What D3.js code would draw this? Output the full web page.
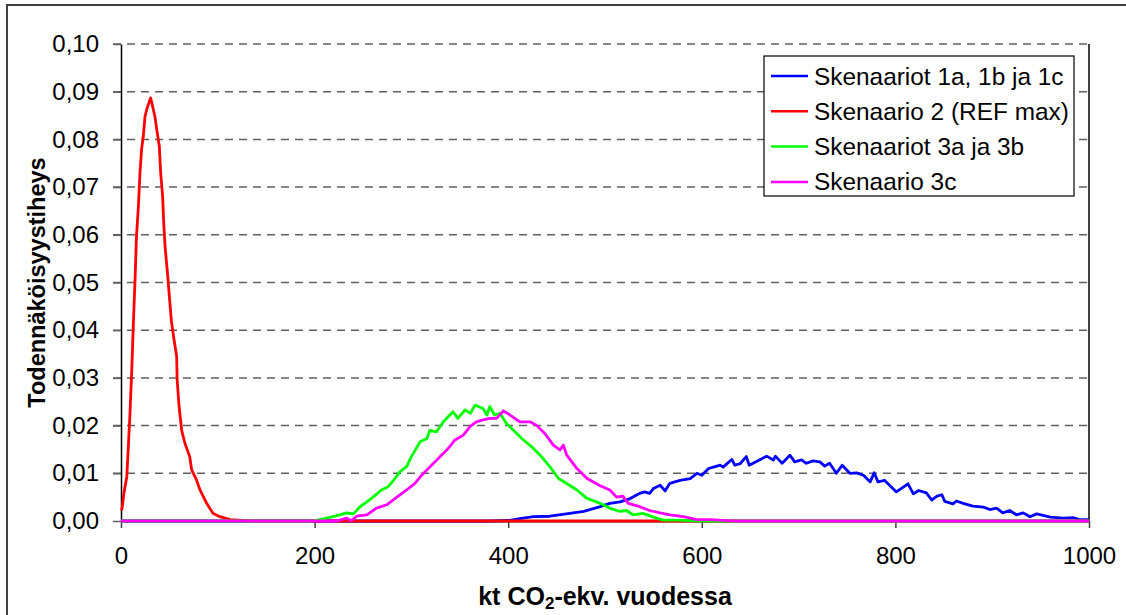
<!DOCTYPE html>
<html lang="fi">
<head>
  <meta charset="UTF-8">
  <title>Todennäköisyystiheys</title>
  <script src='https://d3js.org/d3.v7.min.js'></script>
  <style>
    body { margin: 0; background: #fff; }
    text { font-family: "Liberation Sans", Arial, sans-serif; fill: #000; }
  </style>
</head>
<body>
</body>
<script>
  // Series: [kt CO2-ekv., density]
  const series1 = [[0,0],[380,0],[400,0.0001],[412,0.0005],[426,0.0009],[443,0.001],[460,0.0015],[478,0.002],[495,0.003],[505,0.0037],[515.5,0.004],[526,0.0047],[536,0.0058],[541,0.0061],[546,0.0058],[550,0.0068],[557,0.0075],[562,0.0063],[567,0.0079],[577.5,0.0085],[588,0.0089],[595,0.01],[600,0.0096],[607,0.011],[612,0.0113],[619,0.0117],[622,0.0113],[631,0.0129],[634,0.0117],[639.5,0.012],[646,0.0135],[649,0.0117],[656,0.0124],[667,0.0136],[674,0.0128],[676,0.0136],[683,0.0121],[691,0.0138],[696,0.0124],[703,0.0128],[708,0.0121],[715,0.0126],[722,0.0124],[727,0.0115],[732,0.0121],[739,0.01],[745,0.0117],[753,0.01],[760,0.0101],[767,0.0096],[774,0.0082],[778,0.0101],[782,0.0082],[789,0.0085],[801,0.0061],[813,0.0078],[818.6,0.0057],[824,0.0064],[832,0.0059],[837.5,0.0044],[843,0.0052],[848,0.0055],[851,0.0041],[859.5,0.0036],[863,0.0042],[870,0.0037],[880,0.0031],[891,0.0029],[897.6,0.0024],[904.5,0.0027],[911,0.0017],[918,0.0022],[925,0.0013],[932,0.0017],[939,0.0009],[946,0.0015],[960,0.0008],[973.5,0.0006],[983.5,0.0007],[990,0.0003],[1000,0.0003]];
  const series2 = [[0,0.0022],[1,0.0025],[3,0.0058],[6,0.0093],[7.6,0.0156],[9.3,0.0226],[11,0.031],[12.7,0.041],[14.5,0.0506],[16,0.0597],[18,0.066],[19.6,0.073],[21.3,0.078],[23,0.0806],[24.8,0.0848],[27,0.0866],[30.6,0.0887],[32.7,0.0869],[35,0.0848],[37,0.082],[39.6,0.0785],[41,0.073],[43,0.068],[44,0.063],[45.5,0.0576],[48,0.052],[50,0.047],[52,0.042],[54.8,0.038],[57.5,0.0345],[58,0.0296],[60,0.024],[62.7,0.019],[66,0.0163],[71,0.0135],[73,0.0107],[78,0.0086],[81.6,0.0065],[88.5,0.0037],[95,0.0016],[102,0.0009],[113,0.0003],[130,0.0001],[140,0],[1000,0]];
  const series3 = [[0,0],[198,0],[212.5,0.0006],[226,0.0013],[233,0.0017],[240,0.0015],[247,0.003],[254,0.004],[261,0.0051],[269,0.0065],[276,0.0072],[283,0.0089],[288,0.0103],[295,0.0114],[300,0.0135],[309,0.0166],[316,0.0173],[319,0.019],[326,0.0187],[333,0.0208],[343,0.0229],[348,0.0215],[355.4,0.0233],[361,0.0226],[365.7,0.0243],[374,0.0236],[378,0.0222],[381,0.024],[386,0.0222],[391.5,0.0226],[398,0.0205],[407,0.0187],[414,0.0173],[424,0.0156],[433,0.0138],[443,0.0114],[452,0.0089],[460,0.0079],[471,0.0065],[481,0.0048],[495,0.0037],[505,0.0027],[515.5,0.002],[522,0.0022],[529,0.0013],[539,0.0016],[550,0.0008],[560,0.0002],[574,0.0002],[588,0.0001],[600,0],[1000,0]];
  const series4 = [[0,0],[223,0],[233,0.0006],[238,0.0001],[243.5,0.001],[254,0.0013],[264,0.0027],[274.5,0.0034],[285,0.005],[295,0.0065],[303.7,0.0079],[310.6,0.0096],[317.5,0.011],[324.4,0.0124],[331,0.0138],[338,0.0152],[345,0.017],[353.7,0.018],[360.5,0.0198],[367,0.0208],[374,0.0212],[381,0.0215],[388,0.0215],[395,0.0231],[402,0.0222],[412,0.0208],[422.5,0.0208],[429,0.0201],[438,0.0183],[446.6,0.0159],[453.5,0.0149],[457,0.0159],[460.5,0.0138],[471,0.011],[481.5,0.0089],[495,0.0074],[505,0.0065],[512,0.005],[518.5,0.0052],[524,0.0037],[536,0.003],[546,0.0022],[557,0.0017],[567,0.0013],[581,0.0009],[595,0.0003],[609,0.0003],[626,0.0001],[635,0],[1000,0]];

  const seriesNames = ["Skenaariot 1a, 1b ja 1c", "Skenaario 2 (REF max)", "Skenaariot 3a ja 3b", "Skenaario 3c"];
  const seriesColors = ["#0000ff", "#ff0000", "#00ff00", "#ff00ff"];
  const xTicks = [0, 200, 400, 600, 800, 1000];
  const yTicks = [0, 0.01, 0.02, 0.03, 0.04, 0.05, 0.06, 0.07, 0.08, 0.09, 0.10];

  const width = 1126, height = 615;
  const plotLeft = 121, plotRight = 1089, plotTop = 44, plotBottom = 521;

  const svg = d3.select("body")
    .append("svg")
    .attr("width", width)
    .attr("height", height);

  // outer chart border (runs off the picture on right/bottom)
  svg.append("rect")
    .attr("x", 7).attr("y", 5)
    .attr("width", 1300).attr("height", 800)
    .attr("fill", "#fff")
    .attr("stroke", "#404040")
    .attr("stroke-width", 2);

  const x = d3.scaleLinear().domain([0, 1000]).range([plotLeft, plotRight]);
  const y = d3.scaleLinear().domain([0, 0.1]).range([plotBottom, plotTop]);

  // grid lines
  svg.append("g")
    .selectAll("line")
    .data(yTicks.slice(1))
    .enter()
    .append("line")
    .attr("x1", plotLeft - 8)
    .attr("x2", plotRight)
    .attr("y1", d => y(d))
    .attr("y2", d => y(d))
    .attr("stroke", "#606060")
    .attr("stroke-width", 1.5)
    .attr("stroke-dasharray", "8,6");

  // right border of the plot area
  svg.append("line")
    .attr("x1", plotRight).attr("x2", plotRight)
    .attr("y1", plotTop).attr("y2", plotBottom)
    .attr("stroke", "#000").attr("stroke-width", 1.5);

  // Y axis
  const yAxis = svg.append("g")
    .attr("transform", `translate(${plotLeft},0)`)
    .call(d3.axisLeft(y).tickValues(yTicks).tickSize(8).tickSizeOuter(0).tickPadding(14)
      .tickFormat(d => d3.format(".2f")(d).replace(".", ",")));
  yAxis.select(".domain").attr("stroke", "#000").attr("stroke-width", 1.5);
  yAxis.selectAll(".tick line").attr("stroke", "#606060").attr("stroke-width", 1.5);
  yAxis.selectAll("text").attr("font-size", 24).attr("font-family", "Liberation Sans, Arial, sans-serif");

  // X axis
  const xAxis = svg.append("g")
    .attr("transform", `translate(0,${plotBottom})`)
    .call(d3.axisBottom(x).tickValues(xTicks).tickSize(7).tickSizeOuter(0).tickPadding(19)
      .tickFormat(d3.format("d")));
  xAxis.select(".domain").attr("stroke", "#404040").attr("stroke-width", 2);
  xAxis.selectAll(".tick line").attr("stroke", "#404040").attr("stroke-width", 1.5);
  xAxis.selectAll("text").attr("font-size", 24).attr("font-family", "Liberation Sans, Arial, sans-serif");

  // lines
  const line = d3.line().x(d => x(d[0])).y(d => y(d[1]));
  [series1, series2, series3, series4].forEach((s, i) => {
    svg.append("path")
      .datum(s)
      .attr("fill", "none")
      .attr("stroke", seriesColors[i])
      .attr("stroke-width", 2.8)
      .attr("stroke-linejoin", "round")
      .attr("d", line);
  });

  // axis titles
  const xt = svg.append("text")
    .attr("x", (plotLeft + plotRight) / 2)
    .attr("y", 605)
    .attr("text-anchor", "middle")
    .attr("font-size", 25)
    .attr("font-weight", "bold");
  xt.append("tspan").text("kt CO");
  xt.append("tspan").attr("font-size", 17).attr("dy", 4).text("2");
  xt.append("tspan").attr("dy", -4).text("-ekv. vuodessa");

  svg.append("text")
    .attr("transform", `translate(45,${(plotTop + plotBottom) / 2}) rotate(-90)`)
    .attr("text-anchor", "middle")
    .attr("font-size", 23.5)
    .attr("font-weight", "bold")
    .text("Todennäköisyystiheys");

  // legend
  const legend = svg.append("g").attr("transform", "translate(764,56)");
  legend.append("rect")
    .attr("width", 310).attr("height", 140)
    .attr("fill", "#fff").attr("stroke", "#000").attr("stroke-width", 1.2);
  seriesNames.forEach((name, i) => {
    const row = legend.append("g").attr("transform", `translate(0,${20 + i * 35.3})`);
    row.append("line")
      .attr("x1", 7).attr("x2", 44)
      .attr("stroke", seriesColors[i]).attr("stroke-width", 2.5);
    row.append("text")
      .attr("x", 50).attr("y", 8.5)
      .attr("font-size", 24.4)
      .text(name);
  });
</script>
</html>
